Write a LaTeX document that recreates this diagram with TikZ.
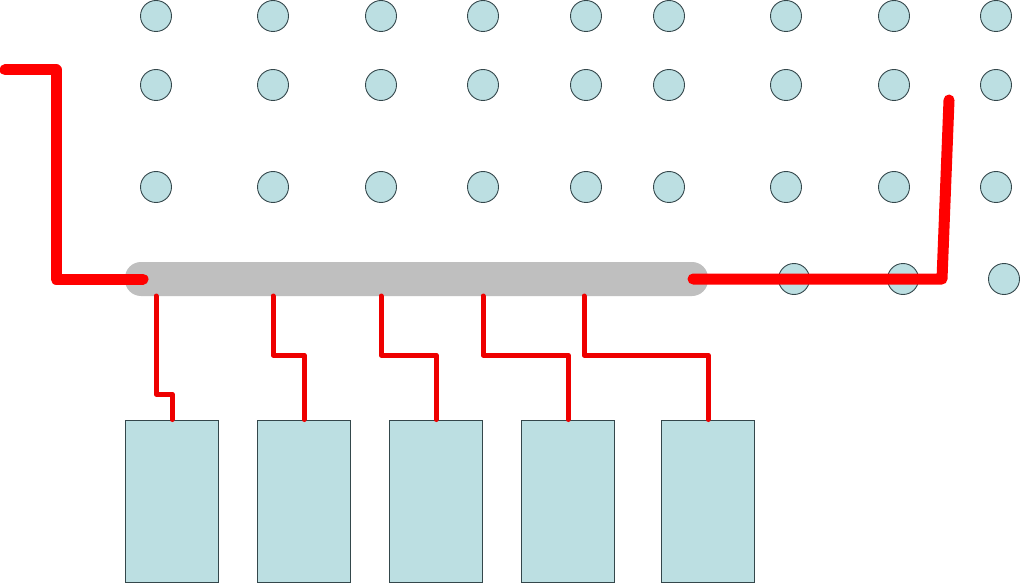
\documentclass[tikz,border=0pt]{standalone}
\usetikzlibrary{calc}
\definecolor{dotfill}{HTML}{BCDFE2}
\definecolor{edge}{HTML}{34474B}
\definecolor{busgray}{HTML}{BFBFBF}
\definecolor{wire}{HTML}{FF0000}
\definecolor{tap}{HTML}{EE0000}
\tikzset{
  dot/.style={circle,draw=edge,line width=0.9pt,fill=dotfill,minimum size=31pt,inner sep=0pt},
  unit/.style={rectangle,draw=edge,line width=1pt,fill=dotfill,minimum width=93pt,minimum height=162pt,inner sep=0pt},
  busbar/.style={rectangle,rounded corners=16pt,fill=busgray,minimum width=583pt,minimum height=34pt,inner sep=0pt},
  mainwire/.style={wire,line width=11pt,line cap=round,line join=round},
  tapwire/.style={tap,line width=5pt,line cap=round,line join=round}
}
\begin{document}
\begin{tikzpicture}[x=1pt,y=-1pt]
\useasboundingbox[fill=white] (0,0) rectangle (1024,585);
% grid of dots
\foreach \c/\x in {1/156,2/273,3/381,4/483,5/586,6/669,7/786,8/894,9/996}{
  \node[dot] (d1\c) at (\x,16) {};
  \node[dot] (d2\c) at (\x,85) {};
  \node[dot] (d3\c) at (\x,187) {};
}
\node[dot] (d47) at (794,279) {};
\node[dot] (d48) at (903,279) {};
\node[dot] (d49) at (1004,279) {};
% bus
\node[busbar] (bus) at (416.5,279) {};
% units
\node[unit] (u1) at (172,501) {};
\node[unit] (u2) at (304,501) {};
\node[unit] (u3) at (436,501) {};
\node[unit] (u4) at (568,501) {};
\node[unit] (u5) at (708,501) {};
% main wires
\coordinate (lstart) at (5,70);
\coordinate (lend) at (143,279);
\coordinate (rstart) at (693,279);
\coordinate (rtop) at (949,100);
\draw[mainwire] (lstart) -- (56,70) -- (56,279) -- (lend);
\draw[mainwire] (rstart) -- (942,279) -- (rtop);
% taps
\coordinate (t1) at (156,296);
\coordinate (t2) at (273,296);
\coordinate (t3) at (381,296);
\coordinate (t4) at (483,296);
\coordinate (t5) at (584,296);
\draw[tapwire] (t1) -- (156,394) -- (u1.north |- 0,394) -- (u1.north);
\draw[tapwire] (t2) -- (273,355) -- (u2.north |- 0,355) -- (u2.north);
\draw[tapwire] (t3) -- (381,355) -- (u3.north |- 0,355) -- (u3.north);
\draw[tapwire] (t4) -- (483,355) -- (u4.north |- 0,355) -- (u4.north);
\draw[tapwire] (t5) -- (584,355) -- (u5.north |- 0,355) -- (u5.north);
\end{tikzpicture}
\end{document}
